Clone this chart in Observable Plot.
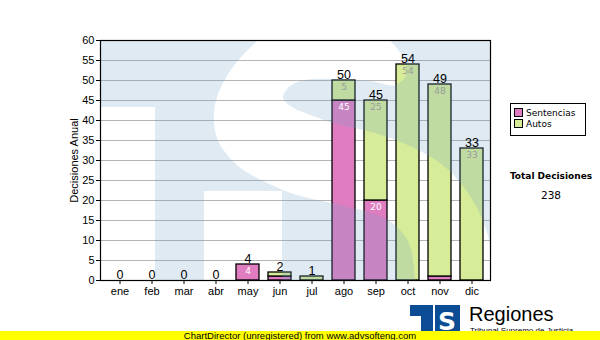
<!DOCTYPE html>
<html>
<head>
<meta charset="utf-8">
<script src="https://cdn.jsdelivr.net/npm/d3@7"></script>
<script src="https://cdn.jsdelivr.net/npm/@observablehq/plot@0.6"></script>
<style>
  html, body { margin: 0; padding: 0; background: #fff; }
  #wrap { position: relative; width: 600px; height: 340px; overflow: hidden; font-family: "Liberation Sans", Arial, sans-serif; }
  #chart { position: absolute; left: 0; top: 0; }
  #legend { position: absolute; left: 510px; top: 103px; width: 74px; height: 31px; border: 1px solid #000; background: #fff;
            font-family: "DejaVu Sans", Verdana, sans-serif; font-size: 9px; color: #000; }
  .li { position: absolute; left: 3px; height: 10px; line-height: 10px; white-space: nowrap; }
  .sw { display: inline-block; width: 7px; height: 7px; border: 1px solid #000; vertical-align: -1px; margin-right: 3px; }
  #total { position: absolute; left: 500px; width: 102px; top: 171px; text-align: center; font-family: "DejaVu Sans", Verdana, sans-serif; font-size: 9px; font-weight: bold; }
  #totalv { position: absolute; left: 500px; width: 102px; top: 189px; text-align: center; font-family: "DejaVu Sans", Verdana, sans-serif; font-size: 10.5px; }
  #banner { position: absolute; left: 0; top: 331px; width: 600px; height: 9px; background: #ffff00; text-align: center;
            font-size: 9.5px; line-height: 9px; color: #000; }
  #logo { position: absolute; left: 409px; top: 304px; overflow: hidden; }
  #regiones { position: absolute; left: 469px; top: 303px; font-size: 20px; color: #000; }
  #tsj { position: absolute; left: 470px; top: 326px; font-size: 8px; color: #000; white-space: nowrap; }
</style>
</head>
<body>
<div id="wrap">
  <div id="chart"></div>
  <div id="legend"></div>
  <div id="total"></div>
  <div id="totalv"></div>
  <svg id="logo" width="52" height="32" viewBox="0 0 52 32">
    <rect x="1" y="1" width="50" height="31" fill="#0b4c94"></rect>
    <rect x="1" y="12" width="11" height="20" fill="#fff"></rect>
    <rect x="24" y="1" width="2" height="31" fill="#fff"></rect>
    <text x="38" y="26" text-anchor="middle" font-family="DejaVu Sans, Arial" font-weight="bold" font-size="25" fill="#fff">S</text>
  </svg>
  <div id="regiones">Regiones</div>
  <div id="tsj">Tribunal Supremo de Justicia</div>
  <div id="banner"></div>
</div>
<script>
const months = ["ene","feb","mar","abr","may","jun","jul","ago","sep","oct","nov","dic"];
const sentencias = [0,0,0,0,4,1,0,45,20,0,1,0];
const autos      = [0,0,0,0,0,1,1,5,25,54,48,33];
const seriesNames = ["Sentencias","Autos"];
const seriesColors = ["#e07dc0","#d6ec98"];
const yTicks = [0,5,10,15,20,25,30,35,40,45,50,55,60];
const yLabel = "Decisiones Anual";
const totalTitle = "Total Decisiones";
const bannerText = "ChartDirector (unregistered) from www.advsofteng.com";

const data = months.flatMap((m, i) => [
  {month: m, series: seriesNames[0], value: sentencias[i]},
  {month: m, series: seriesNames[1], value: autos[i]}
]);
const totals = months.map((m, i) => ({month: m, total: sentencias[i] + autos[i]}));
const grandTotal = d3.sum(totals, d => d.total);

// decorative watermark outline (white "S" of the court logo), pixel space of the 600x340 frame
const sShape = [
  [300,18],[350,20],[382,34],[401,54],[407,72],[396,85],[370,81],[330,79],[300,81],[287,89],[283,98],
  [292,107],[313,116],[340,125],[375,133],[410,146],[445,167],[472,199],[488,236],[495,280],[498,330],
  [420,330],[415,280],[410,246],[399,229],[380,216],[340,205],[297,195],[263,181],[237,165],
  [217,138],[215,105],[230,71],[258,40],[278,24]
];

function watermark(index, scales, values, dims) {
  const x0 = dims.marginLeft, y0 = dims.marginTop;
  const w = dims.width - dims.marginLeft - dims.marginRight;
  const h = dims.height - dims.marginTop - dims.marginBottom;
  const g = d3.create("svg:g");
  const defs = g.append("defs");
  defs.append("clipPath").attr("id", "wm-clip")
    .append("rect").attr("x", x0).attr("y", y0).attr("width", w).attr("height", h);
  const mask = defs.append("mask").attr("id", "wm-mask").attr("maskUnits", "userSpaceOnUse")
    .attr("x", 0).attr("y", 0).attr("width", dims.width).attr("height", dims.height);
  mask.append("rect").attr("x", 0).attr("y", 0).attr("width", dims.width).attr("height", dims.height).attr("fill", "#fff");
  const m = mask.append("g").attr("transform", `translate(${x0 - 100},${y0 - 40})`);
  m.append("rect").attr("x", 100).attr("y", 107).attr("width", 55).attr("height", 200).attr("fill", "#000");
  m.append("rect").attr("x", 204).attr("y", 191).attr("width", 78).attr("height", 120).attr("fill", "#000");
  m.append("path").attr("d", d3.line().curve(d3.curveCatmullRomClosed)(sShape)).attr("fill", "#000");
  g.append("rect").attr("x", x0).attr("y", y0).attr("width", w).attr("height", h)
    .attr("fill", "rgb(110,160,200)").attr("fill-opacity", 0.22)
    .attr("mask", "url(#wm-mask)").attr("clip-path", "url(#wm-clip)");
  return g.node();
}

const chart = Plot.plot({
  width: 600,
  height: 340,
  marginLeft: 100,
  marginRight: 110,
  marginTop: 40,
  marginBottom: 60,
  style: {fontFamily: "'Liberation Sans', Arial, sans-serif", fontSize: "11px", color: "#000", background: "transparent"},
  x: {domain: months, paddingInner: 0.29, paddingOuter: 0.145, label: null},
  y: {domain: [0, 60], label: null},
  color: {domain: seriesNames, range: seriesColors},
  marks: [
    Plot.gridY(yTicks, {stroke: "#b4b4b4", strokeOpacity: 1}),
    Plot.barY(data, {x: "month", y: "value", fill: "series", filter: d => d.value > 0, stroke: "#000", strokeWidth: 1.3}),
    watermark,
    Plot.frame({stroke: "#000", strokeWidth: 1.2}),
    Plot.axisY({ticks: yTicks, tickSize: 4, tickPadding: 2, fontSize: 11,
                label: yLabel, labelAnchor: "center", labelArrow: "none", labelOffset: 30}),
    Plot.axisX({tickSize: 4, tickPadding: 3, fontSize: 11, label: null}),
    Plot.text(data, Plot.stackY2({x: "month", y: "value",
      text: d => d.series === seriesNames[0] && d.value >= 4 ? String(d.value) : null,
      fill: "#fff", lineAnchor: "top", dy: 3, fontSize: 9, fontFamily: "'DejaVu Sans', Verdana, sans-serif"})),
    Plot.text(data, Plot.stackY2({x: "month", y: "value",
      text: d => d.series === seriesNames[1] && d.value >= 4 ? String(d.value) : null,
      fill: "#9a9a9a", lineAnchor: "top", dy: 3, fontSize: 9, fontFamily: "'DejaVu Sans', Verdana, sans-serif"})),
    Plot.text(totals, {x: "month", y: "total", text: d => String(d.total), lineAnchor: "bottom", dy: -2, fontSize: 12.5, fill: "#000"})
  ]
});
document.getElementById("chart").appendChild(chart);

const legend = d3.select("#legend");
seriesNames.forEach((s, i) => {
  const item = legend.append("div").attr("class", "li").style("top", (4 + i * 11) + "px");
  item.append("span").attr("class", "sw").style("background", seriesColors[i]);
  item.append("span").text(s);
});
d3.select("#total").text(totalTitle);
d3.select("#totalv").text(String(grandTotal));
d3.select("#banner").text(bannerText);
</script>
</body>
</html>
